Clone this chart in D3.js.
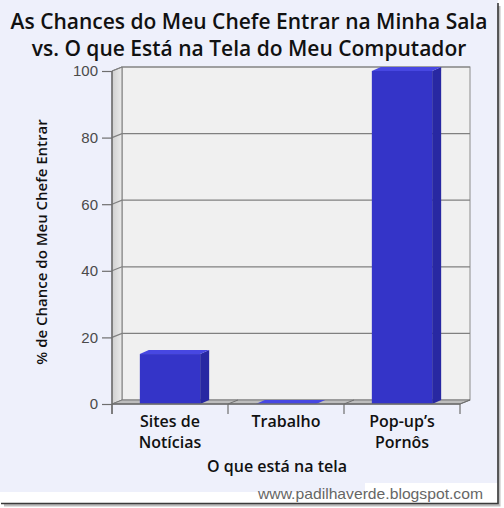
<!DOCTYPE html>
<html>
<head>
<meta charset="utf-8">
<script src="https://cdn.jsdelivr.net/npm/d3@7/dist/d3.min.js"></script>
<style>
  body { margin: 0; background: #ffffff; }
  svg { display: block; }
</style>
</head>
<body>
<div id="chart"></div>
<script>
"use strict";

// data
var categories = ["Sites de Notícias", "Trabalho", "Pop-up’s Pornôs"];
var catLines = [["Sites de", "Notícias"], ["Trabalho"], ["Pop-up’s", "Pornôs"]];
var chances = [15, 0, 100];
var yTicks = [0, 20, 40, 60, 80, 100];

var titleLines = ["As Chances do Meu Chefe Entrar na Minha Sala",
                  "vs. O que Está na Tela do Meu Computador"];
var xTitle = "O que está na tela";
var yTitle = "% de Chance do Meu Chefe Entrar";
var credit = "www.padilhaverde.blogspot.com";

function drawChart()
{
    var w = 504;
    var h = 508;
    var left = 112, right = 460, top = 71, bottom = 404;
    var dx = 10, dy = -4;      // depth of the walls
    var bdx = 9, bdy = -4;     // depth of the bars
    var font = "'Open Sans', 'DejaVu Sans', sans-serif";

    var svg = d3.select("#chart")
                .append("svg")
                .attr("width", w)
                .attr("height", h);

    // frame
    svg.append("rect").attr("x", 0).attr("y", 0).attr("width", 498).attr("height", 503).attr("fill", "#eef0fb");
    svg.append("rect").attr("x", 0).attr("y", 492).attr("width", 498).attr("height", 11).attr("fill", "#ffffff");
    svg.append("rect").attr("x", 365).attr("y", 483).attr("width", 133).attr("height", 20).attr("fill", "#ffffff");
    svg.append("path").attr("d", "M499,6 V505 H4").attr("fill", "none").attr("stroke", "#bdbdbd").attr("stroke-width", 3);
    svg.append("path").attr("d", "M498,3 V503.5 H1").attr("fill", "none").attr("stroke", "#3a3a3a").attr("stroke-width", 1.6);

    var y = d3.scaleLinear().domain([0, 100]).range([bottom, top]);
    var xCat = d3.scaleBand().domain(categories).range([left, right]);
    var x = d3.scaleBand().domain(categories).range([left, right])
                .paddingInner(0.48).paddingOuter(0.24);

    // walls
    var defs = svg.append("defs");
    var grad = defs.append("linearGradient").attr("id", "wallGrad")
                .attr("x1", "0").attr("x2", "1").attr("y1", "0").attr("y2", "0");
    grad.append("stop").attr("offset", "0").attr("stop-color", "#cfcfcf");
    grad.append("stop").attr("offset", "1").attr("stop-color", "#ebebeb");

    svg.append("rect")
        .attr("x", left + dx).attr("y", top + dy)
        .attr("width", right - left).attr("height", bottom - top)
        .attr("fill", "#f0f0f0").attr("stroke", "#8c8c8c");

    svg.append("polygon")
        .attr("points", [[left, top], [left + dx, top + dy], [left + dx, bottom + dy], [left, bottom]].join(" "))
        .attr("fill", "url(#wallGrad)").attr("stroke", "#7a7a7a");

    svg.append("polygon")
        .attr("points", [[left, bottom], [left + dx, bottom + dy], [right + dx, bottom + dy], [right, bottom]].join(" "))
        .attr("fill", "#bdbdbd").attr("stroke", "#7a7a7a");

    // gridlines
    svg.selectAll(".grid")
        .data(yTicks.filter(function(t) { return t > 0; }))
        .enter().append("path")
        .attr("class", "grid")
        .attr("d", function(t) {
            return "M" + left + "," + y(t) + " L" + (left + dx) + "," + (y(t) + dy) + " H" + (right + dx);
        })
        .attr("fill", "none").attr("stroke", "#808080").attr("stroke-width", 1.2);

    // floor tick diagonals
    var bounds = categories.map(function(c) { return xCat(c); }).concat([right]);
    svg.selectAll(".floorTick")
        .data(bounds.slice(1))
        .enter().append("line")
        .attr("x1", function(d) { return d; }).attr("y1", bottom)
        .attr("x2", function(d) { return d + dx; }).attr("y2", bottom + dy)
        .attr("stroke", "#6e6e6e");

    // bars
    var bars = svg.selectAll("g.bar")
        .data(categories)
        .enter().append("g")
        .attr("class", "bar");

    bars.append("rect")
        .attr("x", function(c) { return x(c); })
        .attr("y", function(c, i) { return y(chances[i]); })
        .attr("width", x.bandwidth())
        .attr("height", function(c, i) { return y(0) - y(chances[i]); })
        .attr("fill", "#3434c8");

    bars.append("polygon")
        .attr("points", function(c, i) {
            var x1 = x(c) + x.bandwidth(), y1 = y(chances[i]), y0 = y(0);
            return [[x1, y1], [x1 + bdx, y1 + bdy], [x1 + bdx, y0 + bdy], [x1, y0]].join(" ");
        })
        .attr("fill", "#2828a2");

    bars.append("polygon")
        .attr("points", function(c, i) {
            var x0 = x(c), x1 = x(c) + x.bandwidth(), y1 = y(chances[i]);
            return [[x0, y1], [x0 + bdx, y1 + bdy], [x1 + bdx, y1 + bdy], [x1, y1]].join(" ");
        })
        .attr("fill", "#4747e2");

    // y axis
    var yAxis = svg.append("g")
        .attr("transform", "translate(" + left + ",0)")
        .call(d3.axisLeft(y).tickValues(yTicks).tickSize(10).tickPadding(4));
    yAxis.select(".domain").remove();
    yAxis.selectAll(".tick line").attr("stroke", "#6e6e6e").attr("stroke-width", 1.2);
    yAxis.selectAll(".tick text")
        .attr("fill", "#4a4a4a")
        .style("font-family", "'Liberation Sans', Arial, sans-serif")
        .style("font-size", "15px");

    svg.append("line")
        .attr("x1", left).attr("y1", top).attr("x2", left).attr("y2", bottom + 10)
        .attr("stroke", "#6e6e6e").attr("stroke-width", 1.4);
    svg.append("line")
        .attr("x1", left).attr("y1", bottom).attr("x2", right).attr("y2", bottom)
        .attr("stroke", "#6e6e6e").attr("stroke-width", 1.4);

    // x ticks
    svg.selectAll(".xTick")
        .data(bounds)
        .enter().append("line")
        .attr("x1", function(d) { return d; }).attr("y1", bottom)
        .attr("x2", function(d) { return d; }).attr("y2", bottom + 10)
        .attr("stroke", "#6e6e6e").attr("stroke-width", 1.2);

    // category labels
    var labels = svg.selectAll(".catLabel")
        .data(categories)
        .enter().append("text")
        .attr("class", "catLabel")
        .attr("text-anchor", "middle")
        .style("font-family", font)
        .style("font-weight", "600")
        .style("font-size", "16px")
        .attr("fill", "#111");
    labels.each(function(c, i) {
        d3.select(this).selectAll("tspan")
            .data(catLines[i])
            .enter().append("tspan")
            .attr("x", xCat(c) + xCat.bandwidth() / 2)
            .attr("y", function(d, j) { return 427 + j * 21; })
            .text(function(d) { return d; });
    });

    // titles
    svg.selectAll(".title")
        .data(titleLines)
        .enter().append("text")
        .attr("class", "title")
        .attr("x", 249)
        .attr("y", function(d, i) { return 29 + i * 27; })
        .attr("text-anchor", "middle")
        .style("font-family", font)
        .style("font-weight", "600")
        .style("font-size", "21px")
        .attr("fill", "#111")
        .text(function(d) { return d; });

    svg.append("text")
        .attr("x", 277).attr("y", 472)
        .attr("text-anchor", "middle")
        .style("font-family", font)
        .style("font-weight", "600")
        .style("font-size", "16px")
        .attr("fill", "#111")
        .text(xTitle);

    svg.append("text")
        .attr("transform", "translate(47,242) rotate(-90)")
        .attr("text-anchor", "middle")
        .style("font-family", font)
        .style("font-weight", "600")
        .style("font-size", "15px")
        .attr("fill", "#111")
        .text(yTitle);

    svg.append("text")
        .attr("x", 483).attr("y", 499)
        .attr("text-anchor", "end")
        .attr("textLength", 225)
        .attr("lengthAdjust", "spacingAndGlyphs")
        .style("font-family", "'Liberation Sans', Arial, sans-serif")
        .style("font-size", "15px")
        .attr("fill", "#666")
        .text(credit);
}

window.addEventListener('load', function (){
    drawChart();
});
</script>
</body>
</html>
